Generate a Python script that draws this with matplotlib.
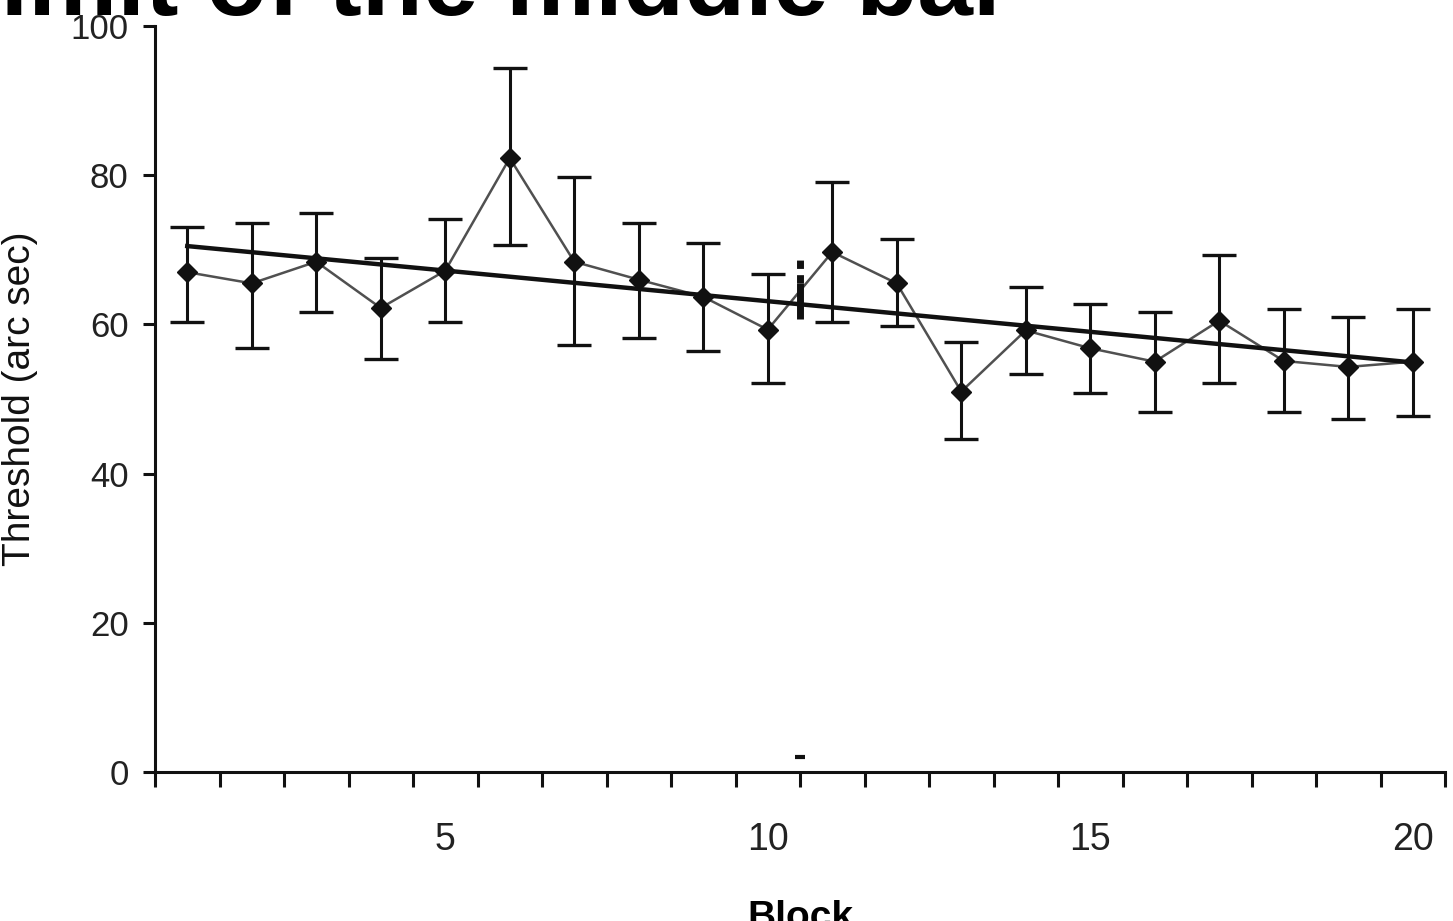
import numpy as np
import matplotlib
matplotlib.use('Agg')
import matplotlib.pyplot as plt

plt.rcParams['font.family'] = ['Liberation Sans', 'DejaVu Sans']

# threshold per block
block = np.arange(1, 21)
mean = [67.0, 65.5, 68.4, 62.2, 67.2, 82.3, 68.4, 66.0, 63.7, 59.3,
        69.7, 65.5, 51.0, 59.2, 56.8, 55.0, 60.5, 55.1, 54.3, 55.0]
upper = [73.1, 73.6, 74.9, 68.9, 74.1, 94.4, 79.7, 73.6, 70.9, 66.8,
         79.1, 71.4, 57.6, 65.0, 62.8, 61.6, 69.3, 62.0, 61.0, 62.0]
lower = [60.3, 56.8, 61.6, 55.4, 60.3, 70.6, 57.2, 58.2, 56.4, 52.1,
         60.3, 59.8, 44.7, 53.3, 50.8, 48.2, 52.1, 48.2, 47.3, 47.7]
trend_x = [1, 20]
trend_y = [70.5, 54.9]
mid_bar = [60.7, 65.5, 69.4]   # solid part, then dashed part, at block 10.5
mid_tick = 2.0

title = 'Upper limit of the middle bar'
xticks = [5, 10, 15, 20]
yticks = [0, 20, 40, 60, 80, 100]

mean = np.array(mean)
err = [mean - np.array(lower), np.array(upper) - mean]

fig = plt.figure(figsize=(14.53, 9.21), dpi=100)
ax = fig.add_axes([155 / 1453, 1 - 772 / 921, 1290 / 1453, 746 / 921])

ax.plot(block, mean, color='#505050', lw=1.8, zorder=2)
ax.errorbar(block, mean, yerr=err, fmt='none', ecolor='#111111', elinewidth=2.2,
            capsize=12, capthick=2.4, zorder=3)
ax.plot(block, mean, 'D', color='#111111', ms=10, zorder=4)
ax.plot(trend_x, trend_y, color='#111111', lw=3.2, zorder=3)

ax.vlines(10.5, mid_bar[0], mid_bar[1], color='#111111', lw=5, zorder=5)
ax.vlines(10.5, mid_bar[1], mid_bar[2], color='#111111', lw=5,
          linestyles=(0, (1.2, 0.9)), zorder=5)
ax.plot([10.5], [mid_tick], '_', color='#111111', ms=7, mew=3)

ax.set_xlim(0.5, 20.5)
ax.set_ylim(0, 100)
ax.set_xticks(xticks)
ax.set_xticks(np.arange(0.5, 21, 1), minor=True)
ax.set_yticks(yticks)
ax.tick_params(axis='x', which='major', length=0, pad=36, labelsize=27, labelcolor='#222222')
ax.tick_params(axis='x', which='minor', length=11, width=2.2, color='#111111')
ax.tick_params(axis='y', length=9, width=2.2, color='#111111', pad=10,
               labelsize=25, labelcolor='#222222')

for s in ['top', 'right']:
    ax.spines[s].set_visible(False)
for s in ['left', 'bottom']:
    ax.spines[s].set_linewidth(2.2)
    ax.spines[s].set_color('#111111')

ax.set_xlabel('Block', fontsize=28, fontweight='bold', labelpad=30)
ax.set_ylabel('Threshold (arc sec)', fontsize=28, color='#111111')
ax.yaxis.set_label_coords(-0.0907, 0.5)

fig.text(1012 / 1453, 1 - 15 / 921, title, ha='right', va='baseline',
         fontsize=72, fontweight='bold', color='black')

fig.savefig('out.png', dpi=100)
